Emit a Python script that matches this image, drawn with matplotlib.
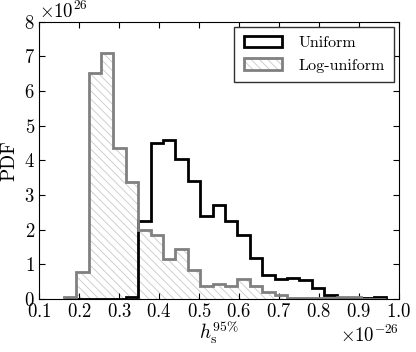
import matplotlib
matplotlib.use("Agg")
import matplotlib.pyplot as plt
from matplotlib.patches import Patch

plt.rcParams["font.family"] = "serif"
plt.rcParams["font.serif"] = ["cmr10"]
plt.rcParams["mathtext.fontset"] = "cm"
plt.rcParams["axes.formatter.use_mathtext"] = True
plt.rcParams["font.size"] = 13.5
plt.rcParams["hatch.linewidth"] = 0.6

# bin edges in units of 1e-26
edges = [0.162, 0.193, 0.224, 0.255, 0.286, 0.317, 0.348, 0.379, 0.410,
         0.441, 0.472, 0.503, 0.534, 0.565, 0.596, 0.627, 0.658, 0.689,
         0.720, 0.751, 0.782, 0.813, 0.844, 0.875, 0.906, 0.937, 0.968]

# PDF values in units of 1e26
pdf_uniform = [0.0, 0.0, 0.0, 0.0, 0.01, 0.05, 2.26, 4.50, 4.59, 4.03, 3.39,
               2.38, 2.70, 2.26, 1.85, 1.18, 0.70, 0.56, 0.59, 0.53, 0.32,
               0.10, 0.03, 0.02, 0.03, 0.05]
pdf_loguniform = [0.04, 0.77, 6.51, 7.11, 4.35, 3.36, 2.00, 1.85, 1.16, 1.44,
                  0.82, 0.36, 0.43, 0.36, 0.56, 0.38, 0.19, 0.10, 0.03, 0.03,
                  0.02, 0.02, 0.04, 0.05, 0.01, 0.0]

xticks = [0.1, 0.2, 0.3, 0.4, 0.5, 0.6, 0.7, 0.8, 0.9, 1.0]
yticks = [0, 1, 2, 3, 4, 5, 6, 7, 8]

bins = [e * 1e-26 for e in edges]
centres = [(bins[i] + bins[i + 1]) / 2 for i in range(len(bins) - 1)]
w_uni = [v * 1e26 for v in pdf_uniform]
w_log = [v * 1e26 for v in pdf_loguniform]

fig = plt.figure(figsize=(4.16, 3.52), dpi=100)
ax = fig.add_axes([0.094, 0.151, 0.865, 0.787])

ax.hist(centres, bins=bins, weights=w_uni, histtype="step", color="k", lw=2)
ax.hist(centres, bins=bins, weights=w_log, histtype="stepfilled", fill=False,
        hatch="\\\\\\\\", edgecolor="#c8c8c8", lw=0)
ax.hist(centres, bins=bins, weights=w_log, histtype="step", color="#808080", lw=2)

ax.set_xlim(0.1e-26, 1.0e-26)
ax.set_ylim(0, 8e26)
ax.set_xticks([x * 1e-26 for x in xticks])
ax.set_yticks([y * 1e26 for y in yticks])
ax.tick_params(direction="in", top=True, right=True, length=4, width=0.8,
               pad=3, labelsize=13.5)

ax.set_xlabel(r"$h_{\rm s}^{95\%}$", labelpad=-2, fontsize=14)
ax.set_ylabel("PDF", labelpad=4, fontsize=14)

h_uni = Patch(facecolor="none", edgecolor="k", lw=2)
h_hatch = Patch(facecolor="none", edgecolor="#c8c8c8", lw=0, hatch="\\\\\\\\")
h_edge = Patch(facecolor="none", edgecolor="#808080", lw=2)
ax.legend([h_uni, (h_hatch, h_edge)], ["Uniform", "Log-uniform"],
          loc="upper right", fancybox=False, edgecolor="#303030", framealpha=1,
          borderaxespad=0.3, handlelength=2.4, handletextpad=1.0,
          borderpad=0.6, labelspacing=0.5, fontsize=11.5)

fig.savefig("out.png", dpi=100)
